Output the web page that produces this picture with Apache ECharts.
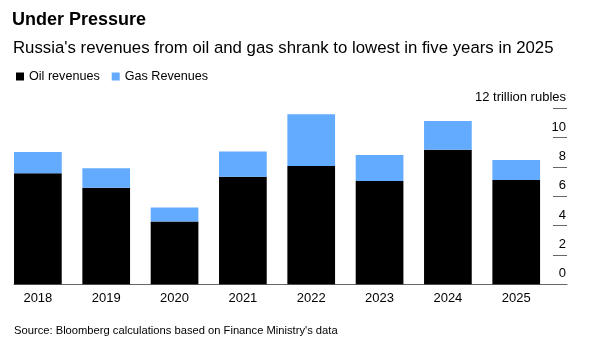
<!DOCTYPE html>
<html>
<head>
<meta charset="utf-8">
<script src="https://cdn.jsdelivr.net/npm/echarts@6/dist/echarts.min.js"></script>
<style>
html,body{margin:0;padding:0;background:#fff;}
#c{width:593px;height:359px;}
</style>
</head>
<body>
<div id="c"></div>
<script>
var years = ['2018','2019','2020','2021','2022','2023','2024','2025'];
var oilRevenues = [7.57, 6.59, 4.29, 7.34, 8.06, 7.04, 9.18, 7.11];
var gasRevenues = [1.45, 1.33, 0.95, 1.72, 3.53, 1.78, 1.95, 1.37];
var yTicks = [0, 2, 4, 6, 8, 10, 12];

var FONT = "'Liberation Sans', Arial, Helvetica, sans-serif";
var chart = echarts.init(document.getElementById('c'), null, {renderer: 'canvas'});
var TOP = 108.3, BOTTOM = 74.7;

chart.setOption({
  animation: false,
  backgroundColor: '#fff',
  textStyle: {fontFamily: FONT},
  title: [
    {text: 'Under Pressure', left: 12, top: 11, padding: 0,
     textStyle: {fontFamily: FONT, fontSize: 18, fontWeight: 'bold', color: '#000'}},
    {text: "Russia's revenues from oil and gas shrank to lowest in five years in 2025", left: 13, top: 40, padding: 0,
     textStyle: {fontFamily: FONT, fontSize: 16.8, fontWeight: 'normal', color: '#000'}},
    {text: "Source: Bloomberg calculations based on Finance Ministry's data", left: 14, top: 325, padding: 0,
     textStyle: {fontFamily: FONT, fontSize: 11.2, fontWeight: 'normal', color: '#000'}}
  ],
  legend: {
    left: 16, top: 70, padding: 0, icon: 'rect', itemWidth: 8, itemHeight: 8, itemGap: 12,
    textStyle: {fontFamily: FONT, fontSize: 12.6, color: '#000'},
    data: ['Oil revenues', 'Gas Revenues']
  },
  grid: [
    {left: 3.7, right: 42.6, top: TOP, bottom: BOTTOM, containLabel: false},
    {left: 14, right: 26, top: TOP, bottom: BOTTOM, containLabel: false}
  ],
  xAxis: [
    {
      type: 'category', gridIndex: 0, data: years, boundaryGap: true,
      axisLine: {show: false}, axisTick: {show: false},
      axisLabel: {fontFamily: FONT, fontSize: 13, color: '#000', margin: 8}
    },
    {
      type: 'value', gridIndex: 1, min: 0, max: 1,
      splitLine: {show: false}, axisTick: {show: false}, axisLabel: {show: false},
      axisLine: {show: true, onZero: false, lineStyle: {color: '#666', width: 1}}
    }
  ],
  yAxis: [
    {
      type: 'value', gridIndex: 0, min: 0, max: 12, interval: 2, show: false
    },
    {
      type: 'value', gridIndex: 1, position: 'right', min: 0, max: 12, interval: 2,
      splitLine: {show: false},
      axisLine: {show: false, onZero: false},
      axisTick: {show: true, inside: true, length: 14, lineStyle: {color: '#666'}},
      axisLabel: {
        inside: true, margin: 1, align: 'right', verticalAlign: 'bottom',
        padding: [0, 0, 4, 0],
        fontFamily: FONT, fontSize: 13, color: '#000',
        formatter: function(v){ return v === 12 ? '12 trillion rubles' : String(v); }
      }
    }
  ],
  series: [
    {name: 'Oil revenues', type: 'bar', stack: 'total', barWidth: 47.7,
     xAxisIndex: 0, yAxisIndex: 0,
     itemStyle: {color: '#000'}, data: oilRevenues},
    {name: 'Gas Revenues', type: 'bar', stack: 'total', barWidth: 47.7,
     xAxisIndex: 0, yAxisIndex: 0,
     itemStyle: {color: '#62abff'}, data: gasRevenues}
  ]
});
</script>
</body>
</html>
